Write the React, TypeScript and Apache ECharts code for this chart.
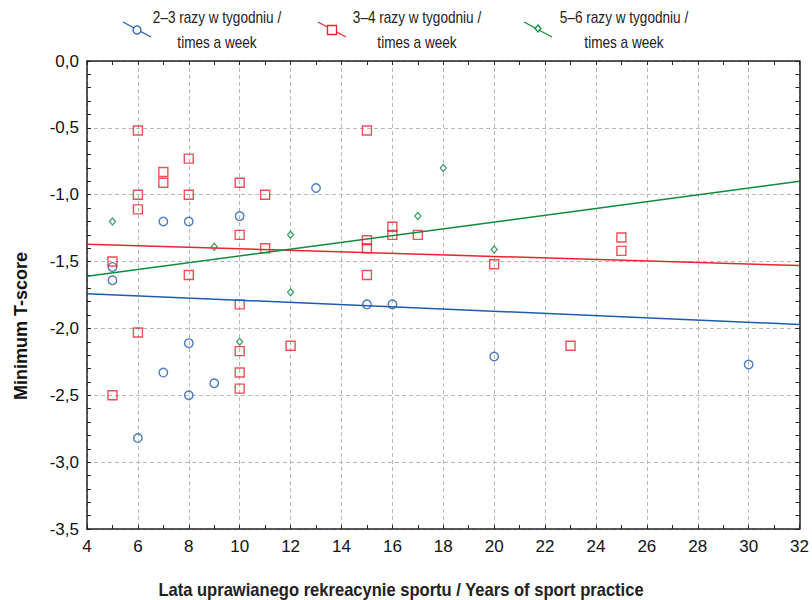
import React, { useEffect, useRef } from "react";
import * as echarts from "echarts";

// 2–3 times a week (blue circles)
const blueX = [5, 5, 6, 7, 7, 8, 8, 8, 9, 10, 13, 15, 16, 20, 30];
const blueY = [-1.54, -1.64, -2.82, -1.2, -2.33, -1.2, -2.11, -2.5, -2.41, -1.16, -0.95, -1.82, -1.82, -2.21, -2.27];

// 3–4 times a week (red squares)
const redX = [5, 5, 6, 6, 6, 6, 7, 7, 8, 8, 8, 10, 10, 10, 10, 10, 10, 11, 11, 12, 15, 15, 15, 15, 16, 16, 17, 20, 23, 25, 25];
const redY = [-1.5, -2.5, -0.52, -1.0, -1.11, -2.03, -0.83, -0.91, -0.73, -1.0, -1.6, -0.91, -1.3, -1.82, -2.17, -2.33, -2.45, -1.0, -1.4, -2.13, -0.52, -1.34, -1.4, -1.6, -1.24, -1.3, -1.3, -1.52, -2.13, -1.32, -1.42];

// 5–6 times a week (green diamonds)
const greenX = [5, 9, 10, 12, 12, 17, 18, 20];
const greenY = [-1.2, -1.39, -2.1, -1.3, -1.73, -1.16, -0.8, -1.41];

// regression lines (ends at x-axis limits)
const trendX = [4, 32];
const blueTrend = [-1.74, -1.97];
const redTrend = [-1.37, -1.53];
const greenTrend = [-1.61, -0.9];

const legendLine1 = ["2–3 razy w tygodniu /", "3–4 razy w tygodniu /", "5–6 razy w tygodniu /"];
const legendLine2 = ["times a week", "times a week", "times a week"];

const xTitle = "Lata uprawianego rekreacynie sportu / Years of sport practice";
const yTitle = "Minimum T-score";

const BLUE = "#1f5bb0";
const RED = "#e8262f";
const GREEN = "#0f8a3e";

const zip = (xs: number[], ys: number[]) => xs.map((x, i) => [x, ys[i]]);

export default function App() {
  const ref = useRef<HTMLDivElement>(null);
  useEffect(() => {
    if (!ref.current) return;
    const chart = echarts.init(ref.current, null, { renderer: "svg" });
    const axisColor = "#222";
    const legendFont = "'Liberation Sans Narrow', 'Liberation Sans', sans-serif";
    const legendX = [137, 332, 538];
    const legendTextX = [217, 417, 624];
    const colors = [BLUE, RED, GREEN];
    const graphics: any[] = [];
    for (let i = 0; i < 3; i++) {
      const cx = legendX[i];
      graphics.push({
        type: "line",
        shape: { x1: cx - 14, y1: 22, x2: cx + 14, y2: 37 },
        style: { stroke: colors[i], lineWidth: 1.2 },
      });
      if (i === 0) {
        graphics.push({ type: "circle", shape: { cx, cy: 30, r: 4 }, style: { fill: "#fff", stroke: BLUE, lineWidth: 1.3 } });
      } else if (i === 1) {
        graphics.push({ type: "rect", shape: { x: cx - 4.5, y: 25.5, width: 9, height: 9 }, style: { fill: "#fff", stroke: RED, lineWidth: 1.3 } });
      } else {
        graphics.push({
          type: "polygon",
          shape: { points: [[cx, 25], [cx + 3, 28.5], [cx, 32], [cx - 3, 28.5]] },
          style: { fill: "#fff", stroke: GREEN, lineWidth: 1.3 },
        });
      }
      graphics.push({
        type: "text",
        x: legendTextX[i],
        y: 18,
        scaleX: 0.85,
        style: { text: legendLine1[i], fill: "#222", font: `16px ${legendFont}`, align: "center", verticalAlign: "middle" },
      });
      graphics.push({
        type: "text",
        x: legendTextX[i],
        y: 43,
        scaleX: 0.85,
        style: { text: legendLine2[i], fill: "#222", font: `16px ${legendFont}`, align: "center", verticalAlign: "middle" },
      });
    }
    graphics.push({
      type: "text",
      x: 21,
      y: 326,
      rotation: Math.PI / 2,
      style: { text: yTitle, fill: "#111", font: "bold 18px 'Liberation Sans', Arial, sans-serif", align: "center", verticalAlign: "middle" },
    });
    graphics.push({
      type: "text",
      x: 401,
      y: 590,
      scaleX: 0.92,
      style: { text: xTitle, fill: "#222", font: `bold 18px ${legendFont}`, align: "center", verticalAlign: "middle" },
    });

    const splitDash = { show: true, lineStyle: { color: "#b8b8b8", type: [4, 3] as any, width: 1 } };
    const labelFont = { fontFamily: "'Liberation Sans', Arial, sans-serif", fontSize: 17, color: "#111" };

    chart.setOption({
      animation: false,
      grid: { left: 87, top: 61, right: 11, bottom: 71, containLabel: false },
      xAxis: [
        {
          type: "value",
          min: 4,
          max: 32,
          interval: 2,
          position: "bottom",
          axisLine: { show: true, onZero: false, lineStyle: { color: axisColor, width: 1.5 } },
          axisTick: { show: true, inside: true, length: 4, lineStyle: { color: axisColor } },
          minorTick: { show: true, splitNumber: 2, length: 4, lineStyle: { color: axisColor } },
          axisLabel: { ...labelFont, margin: 9 },
          splitLine: splitDash,
        },
        {
          type: "value",
          min: 4,
          max: 32,
          interval: 2,
          position: "top",
          axisLine: { show: true, onZero: false, lineStyle: { color: axisColor, width: 1.5 } },
          axisTick: { show: true, inside: true, length: 4, lineStyle: { color: axisColor } },
          minorTick: { show: true, splitNumber: 2, length: 4, lineStyle: { color: axisColor } },
          axisLabel: { show: false },
          splitLine: { show: false },
        },
      ],
      yAxis: [
        {
          type: "value",
          min: -3.5,
          max: 0,
          interval: 0.5,
          position: "left",
          axisLine: { show: true, onZero: false, lineStyle: { color: axisColor, width: 1.5 } },
          axisTick: { show: true, inside: true, length: 4, lineStyle: { color: axisColor } },
          minorTick: { show: true, splitNumber: 5, length: 4, lineStyle: { color: axisColor } },
          axisLabel: { ...labelFont, margin: 8, formatter: (v: number) => v.toFixed(1).replace(".", ",") },
          splitLine: splitDash,
        },
        {
          type: "value",
          min: -3.5,
          max: 0,
          interval: 0.5,
          position: "right",
          axisLine: { show: true, onZero: false, lineStyle: { color: axisColor, width: 1.5 } },
          axisTick: { show: true, inside: true, length: 4, lineStyle: { color: axisColor } },
          minorTick: { show: true, splitNumber: 5, length: 4, lineStyle: { color: axisColor } },
          axisLabel: { show: false },
          splitLine: { show: false },
        },
      ],
      graphic: graphics,
      series: [
        { type: "line", data: zip(trendX, blueTrend), symbol: "none", lineStyle: { color: BLUE, width: 1.5 }, silent: true },
        { type: "line", data: zip(trendX, redTrend), symbol: "none", lineStyle: { color: RED, width: 1.5 }, silent: true },
        { type: "line", data: zip(trendX, greenTrend), symbol: "none", lineStyle: { color: GREEN, width: 1.5 }, silent: true },
        {
          type: "scatter",
          data: zip(blueX, blueY),
          symbol: "circle",
          symbolSize: 8.5,
          itemStyle: { color: "rgba(255,255,255,0)", borderColor: BLUE, borderWidth: 1.4 },
        },
        {
          type: "scatter",
          data: zip(redX, redY),
          symbol: "rect",
          symbolSize: 9,
          itemStyle: { color: "rgba(255,255,255,0)", borderColor: RED, borderWidth: 1.4 },
        },
        {
          type: "scatter",
          data: zip(greenX, greenY),
          symbol: "diamond",
          symbolSize: [6, 7],
          itemStyle: { color: "#fff", borderColor: GREEN, borderWidth: 1.3 },
        },
      ],
    });
    return () => chart.dispose();
  }, []);
  return <div ref={ref} style={{ position: "fixed", left: 0, top: 0, width: 812, height: 600, background: "#fff" }} />;
}
